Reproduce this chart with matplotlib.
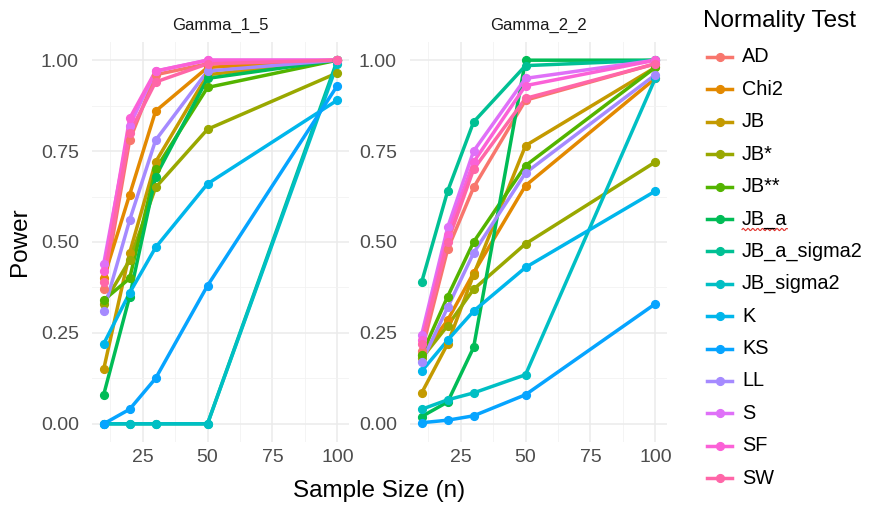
import numpy as np
import matplotlib
matplotlib.use("Agg")
import matplotlib.pyplot as plt
from matplotlib.lines import Line2D
from matplotlib.ticker import MultipleLocator

plt.rcParams['font.family'] = ['Liberation Sans', 'DejaVu Sans']

# ----
# Data
# ----
sample_sizes = [10, 20, 30, 50, 100]
tests = ["AD", "Chi2", "JB", "JB*", "JB**", "JB_a", "JB_a_sigma2",
         "JB_sigma2", "K", "KS", "LL", "S", "SF", "SW"]
panels = ["Gamma_1_5", "Gamma_2_2"]

gamma_1_5 = {
    "AD":          [0.37, 0.78, 0.96, 0.99, 1.00],
    "Chi2":        [0.40, 0.63, 0.86, 0.98, 1.00],
    "JB":          [0.15, 0.47, 0.72, 0.96, 1.00],
    "JB*":         [0.33, 0.45, 0.65, 0.81, 0.965],
    "JB**":        [0.34, 0.40, 0.70, 0.925, 1.00],
    "JB_a":        [0.08, 0.35, 0.68, 0.95, 1.00],
    "JB_a_sigma2": [0.00, 0.00, 0.00, 0.00, 1.00],
    "JB_sigma2":   [0.00, 0.00, 0.00, 0.00, 0.99],
    "K":           [0.22, 0.36, 0.485, 0.66, 0.89],
    "KS":          [0.00, 0.04, 0.125, 0.38, 0.93],
    "LL":          [0.31, 0.56, 0.78, 0.97, 1.00],
    "S":           [0.44, 0.82, 0.97, 1.00, 1.00],
    "SF":          [0.42, 0.84, 0.97, 1.00, 1.00],
    "SW":          [0.39, 0.80, 0.94, 0.99, 1.00],
}

gamma_2_2 = {
    "AD":          [0.20, 0.48, 0.65, 0.89, 0.99],
    "Chi2":        [0.19, 0.285, 0.415, 0.655, 0.95],
    "JB":          [0.085, 0.22, 0.41, 0.765, 0.98],
    "JB*":         [0.18, 0.27, 0.37, 0.495, 0.72],
    "JB**":        [0.19, 0.35, 0.50, 0.71, 0.98],
    "JB_a":        [0.02, 0.06, 0.21, 1.00, 1.00],
    "JB_a_sigma2": [0.39, 0.64, 0.83, 0.985, 1.00],
    "JB_sigma2":   [0.04, 0.066, 0.085, 0.135, 0.95],
    "K":           [0.145, 0.23, 0.31, 0.43, 0.64],
    "KS":          [0.003, 0.01, 0.022, 0.08, 0.33],
    "LL":          [0.17, 0.32, 0.47, 0.69, 0.96],
    "S":           [0.245, 0.54, 0.75, 0.95, 1.00],
    "SF":          [0.23, 0.52, 0.72, 0.93, 1.00],
    "SW":          [0.22, 0.50, 0.70, 0.895, 0.99],
}


# ----
# ggplot-like hue palette (HCL, c=100, l=65)
# ----
def hcl(h, c=100.0, l=65.0):
    hr = np.deg2rad(h)
    U, V = c * np.cos(hr), c * np.sin(hr)
    Xn, Yn, Zn = 95.047, 100.0, 108.883
    Y = Yn * ((l + 16) / 116) ** 3 if l > 8 else Yn * l / 903.3
    d = Xn + 15 * Yn + 3 * Zn
    u = U / (13 * l) + 4 * Xn / d
    v = V / (13 * l) + 9 * Yn / d
    X = 9 * Y * u / (4 * v)
    Z = -X / 3 - 5 * Y + 3 * Y / v
    M = np.array([[3.240479, -1.537150, -0.498535],
                  [-0.969256, 1.875992, 0.041556],
                  [0.055648, -0.204043, 1.057311]])
    rgb = M @ (np.array([X, Y, Z]) / 100.0)
    rgb = np.where(rgb > 0.0031308, 1.055 * np.abs(rgb) ** (1 / 2.4) - 0.055, 12.92 * rgb)
    return tuple(np.clip(rgb, 0, 1))


n = len(tests)
hues = np.linspace(15, 375 - 360 / n, n)
colors = {t: hcl(h) for t, h in zip(tests, hues)}

# ----
# Figure
# ----
W, H = 871, 509
fig = plt.figure(figsize=(W / 100, H / 100), dpi=100)


def px_axes(x0, y0, x1, y1):
    return fig.add_axes([x0 / W, 1 - y1 / H, (x1 - x0) / W, (y1 - y0) / H])


ax_list = [px_axes(92, 42, 349, 442), px_axes(410, 42, 667, 442)]

for ax, name, data in zip(ax_list, panels, [gamma_1_5, gamma_2_2]):
    for t in tests:
        ax.plot(sample_sizes, data[t], color=colors[t], linewidth=2.5,
                solid_capstyle='butt', zorder=2)
    for t in tests:
        ax.plot(sample_sizes, data[t], linestyle='none', marker='o',
                markersize=5.6, color=colors[t], zorder=3)

    ax.set_xlim(5.5, 104.5)
    ax.set_ylim(-0.05, 1.05)
    ax.xaxis.set_major_locator(MultipleLocator(25))
    ax.xaxis.set_minor_locator(MultipleLocator(12.5))
    ax.yaxis.set_major_locator(MultipleLocator(0.25))
    ax.yaxis.set_minor_locator(MultipleLocator(0.125))
    ax.set_xticks([25, 50, 75, 100])
    ax.set_yticks([0, 0.25, 0.5, 0.75, 1.0])
    ax.set_yticklabels(["0.00", "0.25", "0.50", "0.75", "1.00"])
    ax.grid(which='major', color='#EBEBEB', linewidth=1.1)
    ax.grid(which='minor', color='#F2F2F2', linewidth=0.6)
    ax.set_axisbelow(True)
    for s in ax.spines.values():
        s.set_visible(False)
    ax.tick_params(which='both', length=0, labelsize=14, labelcolor='#4D4D4D')
    ax.tick_params(axis='y', pad=9.5)
    ax.tick_params(axis='x', pad=5)
    ax.set_title(name, fontsize=12, color='#1A1A1A', pad=9)

fig.text(20 / W, 1 - 242 / H, "Power", rotation=90, ha='center', va='center',
         fontsize=17.5, color='black')
fig.text(379 / W, 1 - 491 / H, "Sample Size (n)", ha='center', va='center',
         fontsize=17.5, color='black')

# ----
# Legend (laid out like the ggplot guide)
# ----
row_gap = 32.4
fig.text(703 / W, 1 - 21 / H, "Normality Test", ha='left', va='center',
         fontsize=17.5, color='black')
for i, t in enumerate(tests):
    yc = 1 - (57 + i * row_gap) / H
    fig.add_artist(Line2D([707 / W, 732 / W], [yc, yc], color=colors[t],
                          linewidth=2.5, transform=fig.transFigure))
    fig.add_artist(Line2D([719.5 / W], [yc], color=colors[t], marker='o',
                          markersize=5.6, transform=fig.transFigure))
    txt = fig.text(742 / W, yc, t, ha='left', va='center', fontsize=14.3,
                   color='black')
    if t == "JB_a":
        # spell-check squiggle under "JB_a" (as in the reference screenshot)
        fig.canvas.draw()
        bb = txt.get_window_extent()
        xs = np.linspace(bb.x0, bb.x1, 40)
        ys = bb.y0 - 1.0 + 1.2 * np.sin((xs - bb.x0) * 1.3)
        fig.add_artist(Line2D(xs / W, ys / H, color='#E0302A', linewidth=0.8,
                              transform=fig.transFigure))

plt.savefig("out.png", dpi=100)
plt.close()
